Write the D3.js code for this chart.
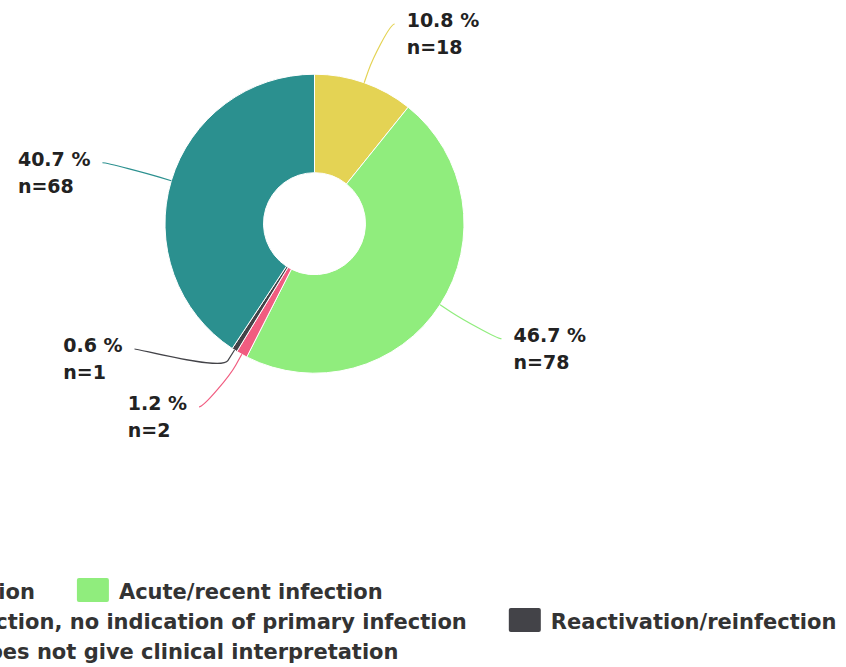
<!DOCTYPE html>
<html>
<head>
<meta charset="utf-8">
<script src="https://cdn.jsdelivr.net/npm/d3@7"></script>
<style>
  body { margin: 0; background: #fff; overflow: hidden; }
  svg { display: block; }
</style>
</head>
<body>
<div id="chart"></div>
<script>
// data
var categories = [
  "No infection",
  "Acute/recent infection",
  "Past infection, no indication of primary infection",
  "Reactivation/reinfection",
  "Result does not give clinical interpretation"
];
var counts = [18, 78, 2, 1, 68];
var colors = ["#e4d354", "#90ed7d", "#f15c80", "#434348", "#2b908f"];

var width = 846, height = 667;
var cx = 314.5, cy = 223.7;
var outerR = 149.5, innerR = 51;
var labelDist = 62.5;            // distance of the label anchor outside the ring
var labelPad = 9;                // extra horizontal push of the anchors
var labelSpacing = 58;           // min vertical distance between two labels on a side
var plotTop = 13, plotBottom = 442;

var svg = d3.select("#chart").append("svg")
    .attr("width", width)
    .attr("height", height)
    .style("font-family", "'DejaVu Sans', Verdana, sans-serif");

var total = d3.sum(counts);
var pctFmt = d3.format(".1f");

var pie = d3.pie().sort(null).value(function(d) { return d; });
var arcs = pie(counts);
var arc = d3.arc().innerRadius(innerR).outerRadius(outerR);

var g = svg.append("g").attr("transform", "translate(" + cx + "," + cy + ")");

g.selectAll("path.slice")
    .data(arcs)
    .enter().append("path")
    .attr("class", "slice")
    .attr("d", arc)
    .attr("fill", function(d, i) { return colors[i]; })
    .attr("stroke", "#fff")
    .attr("stroke-width", 1)
    .attr("stroke-linejoin", "round");

// --- label placement (two columns, pushed apart when they collide) ---
var R = outerR + labelDist;
var labels = arcs.map(function(d, i) {
  var a = (d.startAngle + d.endAngle) / 2;
  return { i: i, a: a, value: d.data, left: a > Math.PI, y: -Math.cos(a) * R };
});

// first line baseline = anchor + 3, block is two lines of 27px
var yMin = plotTop + 11 - cy;
var yMax = plotBottom - 3 - 27 - 5 - cy;

[true, false].forEach(function(side) {
  var col = labels.filter(function(l) { return l.left === side; })
      .sort(function(a, b) { return a.y - b.y; });
  col.forEach(function(l) { l.y = Math.max(yMin, Math.min(yMax, l.y)); });
  for (var k = 0; k < 10; k++) {
    for (var j = 0; j < col.length - 1; j++) {
      var a = col[j], b = col[j + 1];
      if (b.y - a.y < labelSpacing) {
        if (a.value < b.value) a.y = b.y - labelSpacing;
        else b.y = a.y + labelSpacing;
      }
    }
  }
});

labels.forEach(function(l) {
  var s = l.left ? -1 : 1;
  l.x = s * (Math.sqrt(Math.max(0, R * R - l.y * l.y)) + labelPad);
});

// connectors (soft curve, like the original)
var connOffset = labelDist / 5;
g.selectAll("path.connector")
    .data(labels)
    .enter().append("path")
    .attr("class", "connector")
    .attr("fill", "none")
    .attr("stroke", function(d) { return colors[d.i]; })
    .attr("stroke-width", 1.2)
    .attr("d", function(d) {
      var tx = Math.sin(d.a) * outerR, ty = -Math.cos(d.a) * outerR;
      var bx = Math.sin(d.a) * (outerR + connOffset), by = -Math.cos(d.a) * (outerR + connOffset);
      var c1x = d.x + (d.left ? 5 : -5);
      var p = d3.path();
      p.moveTo(d.x, d.y);
      p.bezierCurveTo(c1x, d.y, 2 * bx - tx, 2 * by - ty, bx, by);
      p.lineTo(tx, ty);
      return p.toString();
    });

var lab = g.selectAll("g.dlabel")
    .data(labels)
    .enter().append("g")
    .attr("class", "dlabel");

lab.each(function(d) {
  var el = d3.select(this);
  var t1 = el.append("text")
      .attr("y", d.y + 3)
      .text(pctFmt(counts[d.i] / total * 100) + " %");
  var t2 = el.append("text")
      .attr("y", d.y + 30)
      .text("n=" + counts[d.i]);
  el.selectAll("text")
      .attr("font-size", "19px")
      .attr("font-weight", "bold")
      .attr("fill", "#222");
  var w = Math.max(t1.node().getComputedTextLength(), t2.node().getComputedTextLength());
  var x0 = d.left ? d.x - 12 - w : d.x + 12;
  el.selectAll("text").attr("x", x0);
});

// --- legend (horizontal, wraps into rows) ---
var legendX = -151, legendBase = 599, legendRowH = 30, legendMaxW = 1000;
var symW = 32, symH = 24, symGap = 10, itemGap = 42;

var legend = svg.append("g").attr("class", "legend");
var items = legend.selectAll("g.item")
    .data(categories)
    .enter().append("g")
    .attr("class", "item");

items.append("rect")
    .attr("width", symW)
    .attr("height", symH)
    .attr("rx", 2)
    .attr("fill", function(d, i) { return colors[i]; });

items.append("text")
    .attr("x", symW + symGap)
    .attr("y", 21)
    .attr("font-size", "21px")
    .attr("font-weight", "bold")
    .attr("fill", "#333")
    .text(function(d) { return d; });

var lx = 0, row = 0;
items.each(function(d, i) {
  var w = symW + symGap + d3.select(this).select("text").node().getComputedTextLength();
  if (lx > 0 && lx + w > legendMaxW) { row++; lx = 0; }
  d3.select(this).attr("transform",
      "translate(" + (legendX + lx) + "," + (legendBase - 21 + row * legendRowH) + ")");
  lx += w + itemGap;
});
</script>
</body>
</html>
